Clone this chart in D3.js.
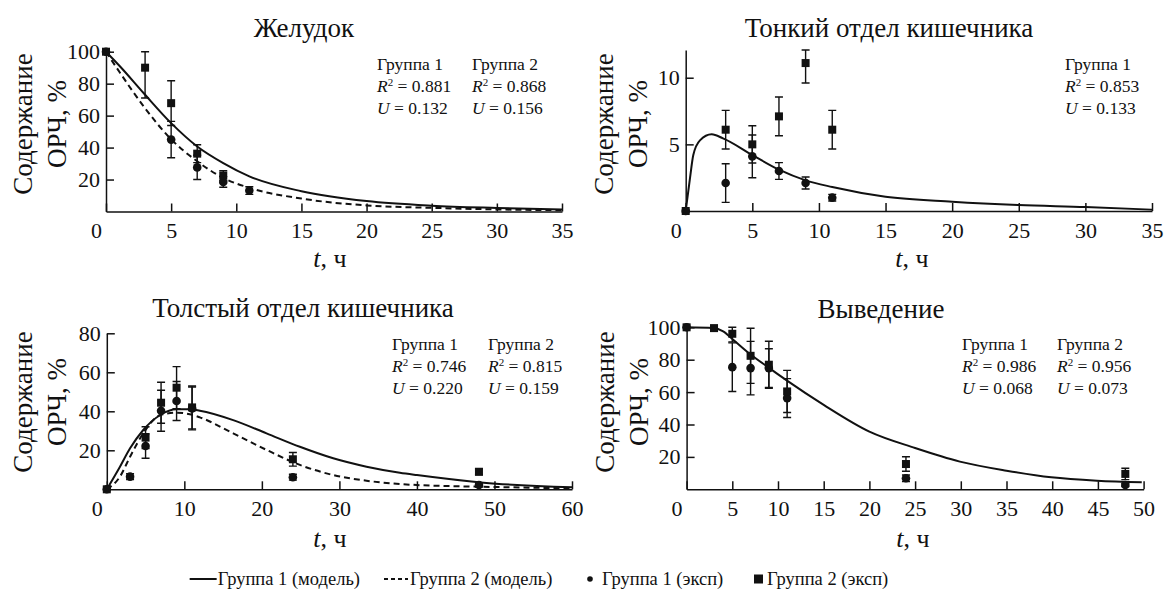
<!DOCTYPE html>
<html>
<head>
<meta charset="utf-8">
<script src="https://cdn.jsdelivr.net/npm/d3@7"></script>
<style>
  body { margin: 0; background: #fff; }
  svg { display: block; }
  svg text { font-family: "Liberation Serif", "Tinos", "DejaVu Serif", "Noto Serif", "Times New Roman", Times, serif; }
</style>
</head>
<body>
<svg id="chart" width="1166" height="590"></svg>
<script>
const stomachModel1 = [[0,100],[1.1,90.6],[2.9,74],[5,55.3],[7,40.7],[9,30.3],[11,22],[15,12.7],[20,6.5],[25,3.6],[30,2.2],[35,1.2]];
const stomachModel2 = [[0,100],[1.1,86.5],[2.9,65.7],[4.9,46],[7,31.4],[9,21],[11,14.8],[15,8.1],[20,3.8],[25,2.3],[30,1.3],[35,0.8]];
const stomachExp1 = [[0,100,0],[5,45,11.4],[7,27.6,7.6],[9,18.5,3.3],[11,13.1,2.4]];
const stomachExp2 = [[0,100,0],[3,90,19],[5,67.8,14],[7,36.2,5.6],[9,22.6,3]];

const smallModel1 = [[0,0],[0.32,2.45],[0.57,4.2],[1.07,5.3],[1.95,5.75],[2.8,5.45],[5,4.2],[7,3.1],[9,2.3],[11,1.8],[15,1.07],[20,0.7],[25,0.45],[30,0.3],[35,0.1]];
const smallExp1 = [[0,0,0],[3,2.1,1.45],[5,4.1,1.6],[7,3.0,0.63],[9,2.1,0.45],[11,1.0,0.25]];
const smallExp2 = [[0,0,0],[3,6.1,1.45],[5,5.0,1.4],[7,7.1,1.45],[9,11.1,1.5],[11,6.1,1.45]];

const largeModel1 = [[0,0],[1.7,11.6],[3,21],[4.7,30.4],[6.9,38.1],[9,41],[10.7,41],[12,40.3],[16.3,35.5],[20.6,28.7],[24.9,21.8],[29.2,15.9],[33.5,11.6],[37.8,8.5],[40,7.3],[48.6,3.4],[60,1.0]];
const largeModel2 = [[0,0],[1.7,6.5],[3,16.7],[4.7,28.7],[6.9,38.1],[9,39.3],[10.7,38.5],[12,36.9],[16.3,28.7],[20.6,20.2],[24.9,12.5],[29.2,7.3],[33.5,4.4],[37.8,2.7],[40,2.2],[48.6,1.3],[60,0.5]];
const largeExp1 = [[0,0,0],[3,6.5,1.5],[5,22.2,6.3],[7,40.3,10.5],[9,45.3,10],[11,41.5,11],[24,6.2,1.5],[48,2.2,1]];
const largeExp2 = [[0,0,0],[5,26.5,5.6],[7,44.4,10.5],[9,52.1,10.8],[11,42,11],[24,15.4,3.5],[48,9.0,1.5]];

const outModel1 = [[0,100],[2.9,99.5],[4,97.5],[5.1,92.3],[6.9,83.7],[8.9,75.4],[10.95,67.2],[15,52.1],[20,35.6],[25,25.5],[29.9,17.1],[35,11.5],[39.9,7.4],[44.9,5.3],[49.8,4.3]];
const outExp1 = [[0,100,0],[5,75.4,15],[7,74.8,16.5],[9,74.8,12],[11,56.3,12],[24,6.8,2],[48,2.7,1]];
const outExp2 = [[0,100,0],[3,99.5,2],[5,96,5],[7,82.4,17],[9,76.9,14.5],[11,60.4,13],[24,15.6,4.5],[48,9.5,3.5]];

// ---- tick labels ----
const xTicks35 = [0,5,10,15,20,25,30,35];
const xTicks60 = [0,10,20,30,40,50,60];
const xTicks50 = [0,5,10,15,20,25,30,35,40,45,50];
const yTicks100 = [20,40,60,80,100];
const yTicks80 = [20,40,60,80];
const yTicks12 = [5,10];

// ---- fit statistics [group, R2, U] ----
const statsStomach = [["Группа 1","0.881","0.132"],["Группа 2","0.868","0.156"]];
const statsSmall = [["Группа 1","0.853","0.133"]];
const statsLarge = [["Группа 1","0.746","0.220"],["Группа 2","0.815","0.159"]];
const statsOut = [["Группа 1","0.986","0.068"],["Группа 2","0.956","0.073"]];

const titles = ["Желудок","Тонкий отдел кишечника","Толстый отдел кишечника","Выведение"];
const legendLabels = ["Группа 1 (модель)","Группа 2 (модель)","Группа 1 (эксп)","Группа 2 (эксп)"];

const svg = d3.select("#chart");

// layout of each panel (pixels)
const panels = [
  { title: titles[0], xMax: 35, yMax: 100, xTicks: xTicks35, yTicks: yTicks100,
    left: 106, right: 562, top: 51.7, bottom: 211.5, titleX: 304, titleY: 37, tX: 330, tY: 267,
    ylX: 23, ylY: 124, statsX: [377, 472], statsY: 70,
    models: [stomachModel1, stomachModel2], exp1: stomachExp1, exp2: stomachExp2, stats: statsStomach },
  { title: titles[1], xMax: 35, yMax: 12.08, xTicks: xTicks35, yTicks: yTicks12,
    left: 685.7, right: 1152, top: 50, bottom: 211, titleX: 889, titleY: 37, tX: 912, tY: 267,
    ylX: 604, ylY: 124, statsX: [1065], statsY: 70,
    models: [smallModel1], exp1: smallExp1, exp2: smallExp2, stats: statsSmall },
  { title: titles[2], xMax: 60, yMax: 80, xTicks: xTicks60, yTicks: yTicks80,
    left: 106.8, right: 572, top: 333.3, bottom: 489.3, titleX: 303, titleY: 317, tX: 330, tY: 547,
    ylX: 23, ylY: 402, statsX: [392, 488], statsY: 350,
    models: [largeModel1, largeModel2], exp1: largeExp1, exp2: largeExp2, stats: statsLarge },
  { title: titles[3], xMax: 50, yMax: 100, xTicks: xTicks50, yTicks: yTicks100,
    left: 686.6, right: 1143.6, top: 327.3, bottom: 489.3, titleX: 881, titleY: 318, tX: 913, tY: 547,
    ylX: 605, ylY: 402, statsX: [962, 1057], statsY: 350,
    models: [outModel1], exp1: outExp1, exp2: outExp2, stats: statsOut }
];

function styleAxis(g, size) {
  g.attr("font-family", null).attr("font-size", size);
  g.selectAll(".domain, .tick line").attr("stroke", "#111").attr("stroke-width", 1.5);
  g.selectAll(".tick text").attr("fill", "#111");
}

function drawPanel(p) {
  const x = d3.scaleLinear().domain([0, p.xMax]).range([p.left, p.right]);
  const y = d3.scaleLinear().domain([0, p.yMax]).range([p.bottom, p.top]);
  const g = svg.append("g");

  // axes, ticks pointing inward
  const gx = g.append("g").attr("transform", `translate(0,${p.bottom})`)
    .call(d3.axisBottom(x).tickValues(p.xTicks).tickSizeInner(-8).tickSizeOuter(0).tickPadding(11));
  styleAxis(gx, 22);
  gx.selectAll(".tick text").filter(d => d === 0).attr("dx", -10);

  const gy = g.append("g").attr("transform", `translate(${p.left},0)`)
    .call(d3.axisLeft(y).tickValues(p.yTicks).tickSizeInner(-8).tickSizeOuter(0).tickPadding(6));
  styleAxis(gy, 22);

  // model curves
  const line = d3.line().x(d => x(d[0])).y(d => y(d[1])).curve(d3.curveMonotoneX);
  p.models.forEach((m, i) => {
    g.append("path").datum(m)
      .attr("fill", "none").attr("stroke", "#111").attr("stroke-width", 2)
      .attr("stroke-dasharray", i === 1 ? "6,4" : null)
      .attr("d", line);
  });

  // error bars
  const bars = p.exp1.concat(p.exp2).filter(d => d[2] > 0);
  g.selectAll("path.err").data(bars).join("path").attr("class", "err")
    .attr("fill", "none").attr("stroke", "#111").attr("stroke-width", 1.4)
    .attr("d", d => {
      const cx = x(d[0]);
      const y0 = y(Math.max(0, d[1] - d[2])), y1 = y(Math.min(p.yMax, d[1] + d[2]));
      return `M${cx},${y0}V${y1}M${cx - 4},${y0}H${cx + 4}M${cx - 4},${y1}H${cx + 4}`;
    });

  // experiment markers
  g.selectAll("circle.g1").data(p.exp1).join("circle").attr("class", "g1")
    .attr("cx", d => x(d[0])).attr("cy", d => y(d[1])).attr("r", 4.3).attr("fill", "#111");
  g.selectAll("rect.g2").data(p.exp2).join("rect").attr("class", "g2")
    .attr("x", d => x(d[0]) - 4).attr("y", d => y(d[1]) - 4)
    .attr("width", 8).attr("height", 8).attr("fill", "#111");

  // title and axis labels
  g.append("text").attr("x", p.titleX).attr("y", p.titleY).attr("text-anchor", "middle")
    .attr("font-size", 27).attr("fill", "#111").text(p.title);

  const tl = g.append("text").attr("x", p.tX).attr("y", p.tY).attr("text-anchor", "middle")
    .attr("font-size", 26).attr("fill", "#111");
  tl.append("tspan").attr("font-style", "italic").text("t");
  tl.append("tspan").text(", ч");

  [["Содержание", 0], ["ОРЧ, %", 34]].forEach(([txt, off]) => {
    g.append("text")
      .attr("transform", `translate(${p.ylX + off},${p.ylY}) rotate(-90)`)
      .attr("dy", "0.35em").attr("text-anchor", "middle")
      .attr("font-size", 27).attr("fill", "#111").text(txt);
  });

  // fit statistics
  p.stats.forEach((s, i) => {
    const sx = p.statsX[i];
    const t = g.append("g").attr("font-size", 17.5).attr("fill", "#111");
    t.append("text").attr("x", sx).attr("y", p.statsY).text(s[0]);
    const r = t.append("text").attr("x", sx).attr("y", p.statsY + 22);
    r.append("tspan").attr("font-style", "italic").text("R");
    r.append("tspan").attr("font-size", 11).attr("dy", -6).text("2");
    r.append("tspan").attr("dy", 6).text(" = " + s[1]);
    const u = t.append("text").attr("x", sx).attr("y", p.statsY + 44);
    u.append("tspan").attr("font-style", "italic").text("U");
    u.append("tspan").text(" = " + s[2]);
  });
}

panels.forEach(drawPanel);

// ---- legend: symbols followed by labels ----
const lg = svg.append("g").attr("font-size", 18.5).attr("fill", "#111");
const ly = 579;
const t1 = lg.append("text").attr("x", 360).attr("y", ly + 6).attr("text-anchor", "end").text(legendLabels[0]);
const w1 = t1.node().getComputedTextLength();
lg.append("line").attr("x1", 360 - w1 - 28).attr("x2", 360 - w1 - 1).attr("y1", ly).attr("y2", ly)
  .attr("stroke", "#111").attr("stroke-width", 2);
lg.append("line").attr("x1", 384).attr("x2", 408).attr("y1", ly).attr("y2", ly)
  .attr("stroke", "#111").attr("stroke-width", 2).attr("stroke-dasharray", "4,3");
lg.append("text").attr("x", 410).attr("y", ly + 6).text(legendLabels[1]);
lg.append("circle").attr("cx", 590).attr("cy", ly).attr("r", 2.8).attr("fill", "#111");
lg.append("text").attr("x", 602).attr("y", ly + 6).text(legendLabels[2]);
lg.append("rect").attr("x", 754).attr("y", ly - 4.5).attr("width", 9).attr("height", 9).attr("fill", "#111");
lg.append("text").attr("x", 767).attr("y", ly + 6).text(legendLabels[3]);
</script>
</body>
</html>
